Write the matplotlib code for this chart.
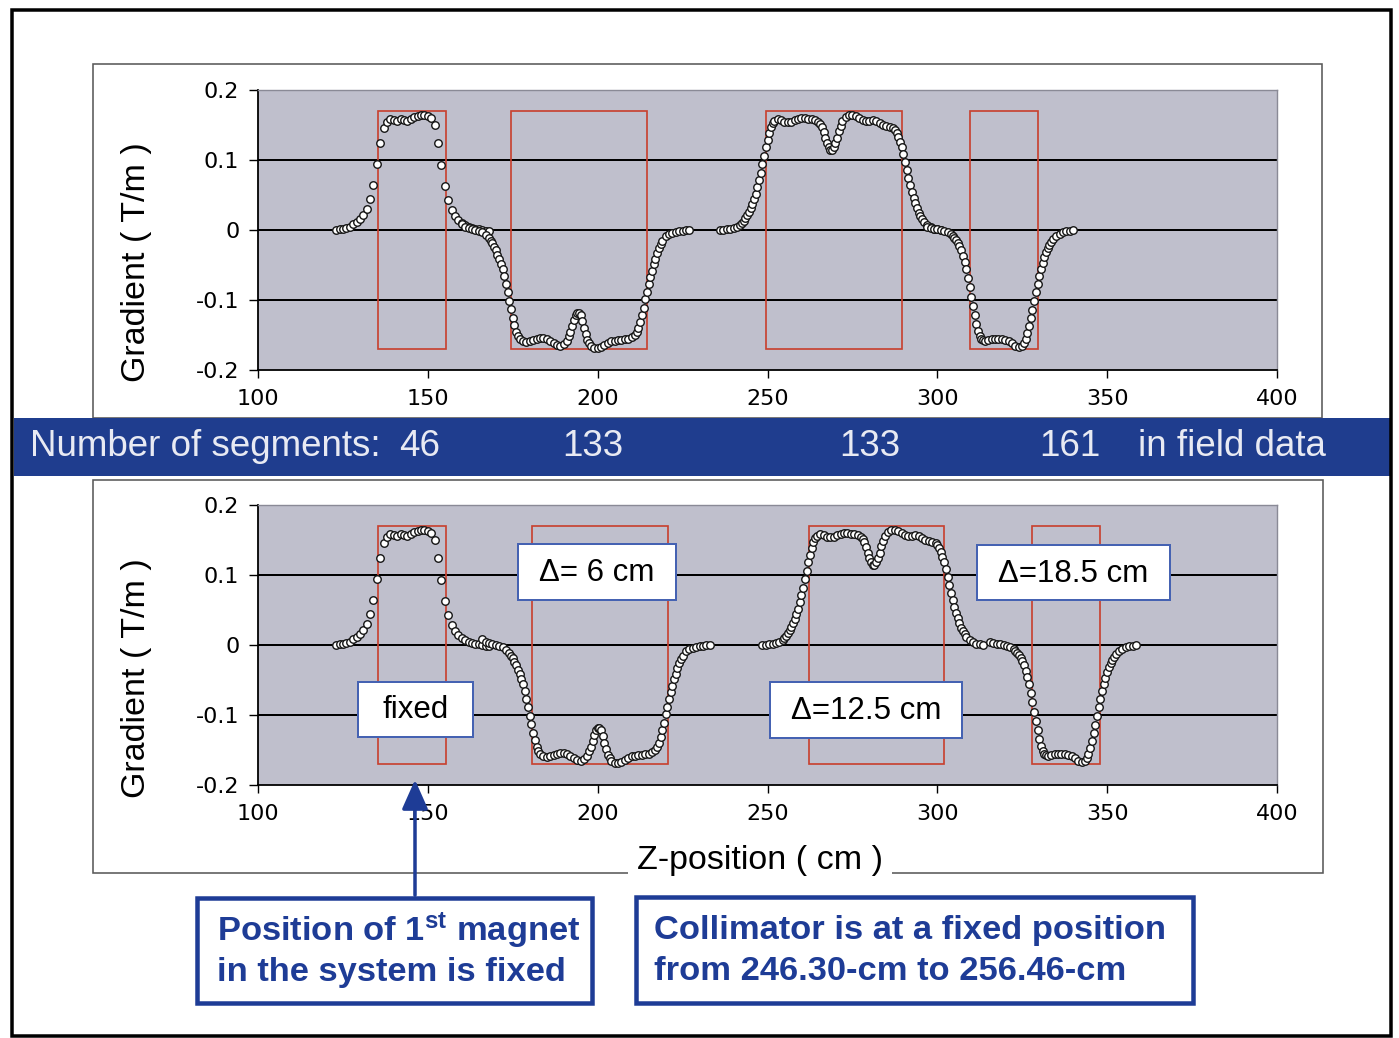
import matplotlib
matplotlib.use('Agg')
import matplotlib.pyplot as plt
from matplotlib.patches import Rectangle, FancyArrowPatch
import numpy as np

plt.rcParams['font.family'] = ['Liberation Sans', 'DejaVu Sans']
plt.rcParams['mathtext.fontset'] = 'custom'
plt.rcParams['mathtext.rm'] = 'Liberation Sans'
plt.rcParams['mathtext.bf'] = 'Liberation Sans:bold'

# ---------------- data (z in cm, gradient in T/m), measured positions ----------------
MAGNET1 = [(123, 0.000), (124, 0.001), (125, 0.002), (126, 0.003), (127, 0.005), (128, 0.008),
           (129, 0.012), (130, 0.016), (131, 0.021), (132, 0.030), (133, 0.045), (134, 0.064),
           (135, 0.095), (136, 0.125), (137, 0.146), (138, 0.155), (139, 0.158), (140, 0.157),
           (141, 0.156), (142, 0.158), (143, 0.157), (144, 0.156), (145, 0.158), (146, 0.161),
           (147, 0.163), (148, 0.165), (149, 0.165), (150, 0.163), (151, 0.160), (152, 0.150),
           (153, 0.125), (154, 0.093), (155, 0.063), (156, 0.043), (157, 0.029), (158, 0.020),
           (159, 0.014), (160, 0.010), (161, 0.007), (162, 0.005), (163, 0.003), (164, 0.002),
           (165, 0.001), (166, 0.000), (167, -0.001), (168, -0.002)]

MAGNET2 = [(160, 0.008), (161, 0.005), (162, 0.003), (163, 0.001), (164, 0.000), (165, -0.001),
           (166, -0.003), (167, -0.007), (168, -0.012), (168.5, -0.015), (169, -0.019), (169.5, -0.024),
           (170, -0.029), (170.5, -0.036), (171, -0.042), (171.5, -0.049), (172, -0.056), (172.5, -0.066),
           (173, -0.077), (173.5, -0.089), (174, -0.101), (174.5, -0.113), (175, -0.125), (175.5, -0.136),
           (176, -0.145), (176.5, -0.151), (177, -0.156), (178, -0.159), (179, -0.160), (180, -0.159),
           (181, -0.157), (182, -0.155), (183, -0.154), (184, -0.154), (185, -0.156), (186, -0.159),
           (187, -0.162), (188, -0.164), (189, -0.165), (190, -0.163), (191, -0.158), (191.5, -0.152),
           (192, -0.145), (192.5, -0.137), (193, -0.128), (193.5, -0.121), (194, -0.118), (194.5, -0.118),
           (195, -0.122), (195.5, -0.130), (196, -0.140), (196.5, -0.149), (197, -0.157), (197.5, -0.162),
           (198, -0.166), (199, -0.169), (200, -0.169), (201, -0.167), (202, -0.164), (203, -0.161),
           (204, -0.159), (205, -0.158), (206, -0.157), (207, -0.157), (208, -0.156), (209, -0.155),
           (210, -0.153), (211, -0.150), (211.5, -0.146), (212, -0.140), (212.5, -0.132), (213, -0.122),
           (213.5, -0.111), (214, -0.099), (214.5, -0.088), (215, -0.077), (215.5, -0.067), (216, -0.058),
           (216.5, -0.049), (217, -0.041), (217.5, -0.033), (218, -0.026), (218.5, -0.020), (219, -0.015),
           (220, -0.009), (221, -0.006), (222, -0.004), (223, -0.003), (224, -0.002), (225, -0.001),
           (226, 0.000), (227, 0.000)]

MAGNET3 = [(236, 0.000), (237, 0.000), (238, 0.001), (239, 0.002), (240, 0.003), (241, 0.005),
           (242, 0.007), (242.5, 0.010), (243, 0.013), (243.5, 0.017), (244, 0.021), (244.5, 0.026),
           (245, 0.031), (245.5, 0.037), (246, 0.044), (246.5, 0.052), (247, 0.061), (247.5, 0.071),
           (248, 0.082), (248.5, 0.094), (249, 0.106), (249.5, 0.118), (250, 0.129), (250.5, 0.139),
           (251, 0.147), (251.5, 0.153), (252, 0.156), (253, 0.158), (254, 0.157), (255, 0.155),
           (256, 0.154), (257, 0.155), (258, 0.157), (259, 0.159), (260, 0.160), (261, 0.160),
           (262, 0.159), (263, 0.158), (264, 0.157), (265, 0.155), (265.5, 0.152), (266, 0.147),
           (266.5, 0.140), (267, 0.132), (267.5, 0.124), (268, 0.118), (268.5, 0.115), (269, 0.115),
           (269.5, 0.118), (270, 0.124), (270.5, 0.132), (271, 0.141), (271.5, 0.149), (272, 0.156),
           (273, 0.162), (274, 0.165), (275, 0.165), (276, 0.163), (277, 0.160), (278, 0.157),
           (279, 0.156), (280, 0.156), (281, 0.157), (282, 0.156), (283, 0.153), (284, 0.150),
           (285, 0.148), (286, 0.147), (287, 0.146), (287.5, 0.143), (288, 0.139), (288.5, 0.133),
           (289, 0.126), (289.5, 0.118), (290, 0.108), (290.5, 0.097), (291, 0.086), (291.5, 0.075),
           (292, 0.065), (292.5, 0.055), (293, 0.046), (293.5, 0.038), (294, 0.031), (294.5, 0.025),
           (295, 0.020), (295.5, 0.016), (296, 0.012), (297, 0.007), (298, 0.004), (299, 0.002),
           (300, 0.001), (301, 0.000)]

MAGNET4 = [(297, 0.004), (298, 0.003), (299, 0.002), (300, 0.001), (301, 0.000), (302, -0.001),
           (303, -0.003), (304, -0.006), (304.5, -0.008), (305, -0.011), (305.5, -0.014), (306, -0.018),
           (306.5, -0.023), (307, -0.029), (307.5, -0.037), (308, -0.046), (308.5, -0.056), (309, -0.068),
           (309.5, -0.081), (310, -0.095), (310.5, -0.109), (311, -0.122), (311.5, -0.134), (312, -0.144),
           (312.5, -0.151), (313, -0.155), (313.5, -0.157), (314, -0.158), (315, -0.157), (316, -0.156),
           (317, -0.155), (318, -0.155), (319, -0.156), (320, -0.157), (321, -0.158), (322, -0.161),
           (323, -0.165), (324, -0.167), (325, -0.165), (325.5, -0.161), (326, -0.155), (326.5, -0.147),
           (327, -0.137), (327.5, -0.126), (328, -0.114), (328.5, -0.101), (329, -0.089), (329.5, -0.077),
           (330, -0.066), (330.5, -0.056), (331, -0.047), (331.5, -0.039), (332, -0.032), (332.5, -0.026),
           (333, -0.021), (333.5, -0.017), (334, -0.013), (335, -0.008), (336, -0.005), (337, -0.003),
           (338, -0.002), (339, -0.001), (340, 0.000)]

MAGNETS = [MAGNET1, MAGNET2, MAGNET3, MAGNET4]
MAGNET_START = [135.3, 174.6, 249.6, 309.5]   # magnet box start (top chart), cm
MAGNET_LEN = [20, 40, 40, 20]                 # magnet box length, cm
MAGNET_HALF = 0.17                            # box half height, T/m
SHIFTS_TOP = [0, 0, 0, 0]
SHIFTS_BOTTOM = [0, 6, 12.5, 18.5]            # cm, as labelled
SEGMENTS = [46, 133, 133, 161]
X_TICKS = [100, 150, 200, 250, 300, 350, 400]
Y_TICKS = [-0.2, -0.1, 0, 0.1, 0.2]
Y_TICKLABELS = ['-0.2', '-0.1', '0', '0.1', '0.2']
DELTA_LABELS = ['fixed', 'Δ= 6 cm', 'Δ=12.5 cm', 'Δ=18.5 cm']

# ---------------- figure ----------------
W, H = 1399, 1038
fig = plt.figure(figsize=(W / 100, H / 100), dpi=100)
fig.patch.set_facecolor('white')

def fx(px):
    return px / W

def fy(py):
    return 1 - py / H

PX = 0.72  # points per pixel

# background overlay (frames)
bg = fig.add_axes([0, 0, 1, 1], zorder=0)
bg.set_xlim(0, W); bg.set_ylim(H, 0); bg.axis('off')
bg.add_patch(Rectangle((93, 64), 1322 - 93, 418 - 64, fill=False, ec='#5a5a5a', lw=1.6 * PX))
bg.add_patch(Rectangle((93, 480), 1323 - 93, 873 - 480, fill=False, ec='#5a5a5a', lw=1.6 * PX))

BLUE = '#1E3C96'


def draw_chart(ax, shifts):
    ax.set_facecolor('#BFBFCC')
    ax.set_xlim(100, 400)
    ax.set_ylim(-0.2, 0.2)
    for yv in [0.1, 0, -0.1]:
        ax.axhline(yv, color='black', lw=2.0 * PX, zorder=1)
    for start, length, s in zip(MAGNET_START, MAGNET_LEN, shifts):
        ax.add_patch(Rectangle((start + s, -MAGNET_HALF), length, 2 * MAGNET_HALF,
                               fill=False, ec='#C8412F', lw=1.7 * PX, zorder=2))
    for mag, s in zip(MAGNETS, shifts):
        z, g = zip(*mag)
        ax.plot(np.array(z) + s, g, ls='none', marker='o', ms=5.4, mfc='white',
                mec='#151515', mew=1.0, zorder=3)
    ax.set_xticks(X_TICKS)
    ax.set_xticklabels([str(t) for t in X_TICKS], fontfamily='DejaVu Sans', fontsize=16)
    ax.set_yticks(Y_TICKS)
    ax.set_yticklabels(Y_TICKLABELS, fontfamily='DejaVu Sans', fontsize=16)
    ax.tick_params(axis='y', direction='out', length=9 * PX, width=1.4 * PX, pad=7)
    ax.tick_params(axis='x', direction='out', length=8 * PX, width=1.4 * PX, pad=8)
    for side in ['left', 'bottom']:
        ax.spines[side].set_color('black')
        ax.spines[side].set_linewidth(1.8 * PX)
    for side in ['top', 'right']:
        ax.spines[side].set_color('#8a8a96')
        ax.spines[side].set_linewidth(1.4 * PX)


ax1 = fig.add_axes([fx(258), fy(370), fx(1277) - fx(258), fy(90) - fy(370)], zorder=1)
draw_chart(ax1, SHIFTS_TOP)
ax2 = fig.add_axes([fx(258), fy(785), fx(1277) - fx(258), fy(505) - fy(785)], zorder=1)
draw_chart(ax2, SHIFTS_BOTTOM)

# foreground overlay
fg = fig.add_axes([0, 0, 1, 1], zorder=5)
fg.set_xlim(0, W); fg.set_ylim(H, 0); fg.axis('off')
fg.patch.set_alpha(0)

# y labels
fg.text(137, 262, 'Gradient ( T/m )', rotation=90, ha='center', va='center', fontsize=24.5)
fg.text(137, 678, 'Gradient ( T/m )', rotation=90, ha='center', va='center', fontsize=24.5)

# x label sitting on the frame line
fg.text(760, 860, 'Z-position ( cm )', ha='center', va='center', fontsize=24.5,
        bbox=dict(boxstyle='square,pad=0.25', fc='white', ec='none'))

# banner
fg.add_patch(Rectangle((14, 418), 1378, 58, fc='#1F3D8E', ec='none'))
BANNER_TXT = '#E8EAF3'
fg.text(30, 447, 'Number of segments:', ha='left', va='center', fontsize=26.5, color=BANNER_TXT)
for xc, n in zip([420, 593, 870, 1070], SEGMENTS):
    fg.text(xc, 447, str(n), ha='center', va='center', fontsize=26.5, color=BANNER_TXT)
fg.text(1138, 447, 'in field data', ha='left', va='center', fontsize=26.5, color=BANNER_TXT)

# delta boxes in the lower chart
for (x0, y0, x1, y1), lab in zip([(358, 682, 473, 737), (518, 544, 676, 600),
                                  (770, 682, 962, 738), (977, 545, 1170, 600)], DELTA_LABELS):
    fg.add_patch(Rectangle((x0, y0), x1 - x0, y1 - y0, fc='white', ec='#4562B2', lw=2 * PX))
    fg.text((x0 + x1) / 2, (y0 + y1) / 2 + 1, lab, ha='center', va='center', fontsize=22.5)

# arrow
fg.add_artist(FancyArrowPatch((415, 898), (415, 777), arrowstyle='-|>,head_length=0.9,head_width=0.4',
                              mutation_scale=20, color=BLUE, lw=3.5 * PX))

# bottom boxes
fg.add_patch(Rectangle((197, 898), 592 - 197, 1003 - 898, fc='white', ec=BLUE, lw=4.5 * PX))
fg.add_patch(Rectangle((636, 897), 1193 - 636, 1003 - 897, fc='white', ec=BLUE, lw=4.5 * PX))
fg.text(217, 931, r'Position of $\mathbf{1^{st}}$ magnet', ha='left', va='center', fontsize=24.8,
        fontweight='bold', color=BLUE)
fg.text(217, 972, 'in the system is fixed', ha='left', va='center', fontsize=24.8,
        fontweight='bold', color=BLUE)
fg.text(654, 931, 'Collimator is at a fixed position', ha='left', va='center', fontsize=24.8,
        fontweight='bold', color=BLUE)
fg.text(654, 972, 'from 246.30-cm to 256.46-cm', ha='left', va='center', fontsize=24.8,
        fontweight='bold', color=BLUE)

# outer border
fg.add_patch(Rectangle((12, 10), 1391 - 12, 1036 - 10, fill=False, ec='black', lw=3.5 * PX))

fig.savefig('out.png', dpi=100)
